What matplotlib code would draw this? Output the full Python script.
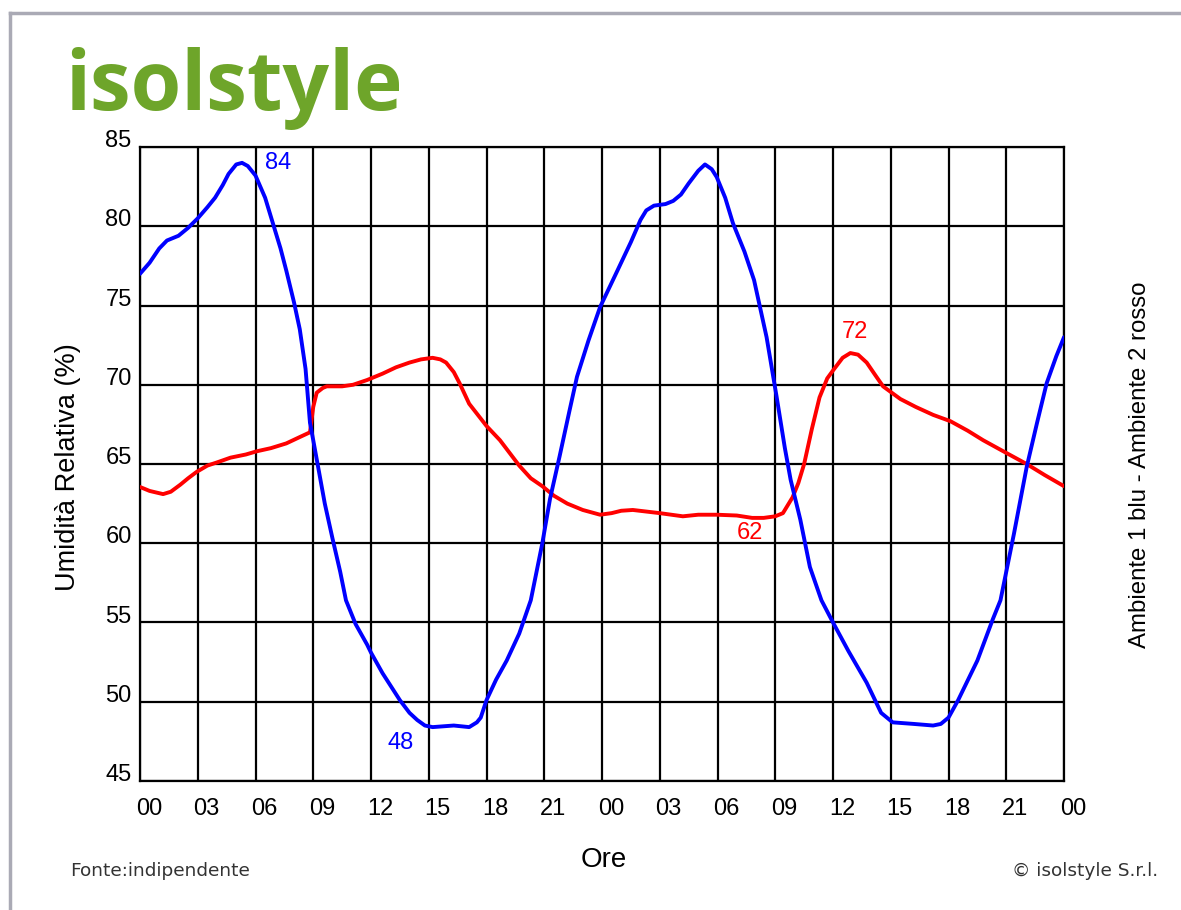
import matplotlib
matplotlib.use("Agg")
import matplotlib.pyplot as plt
from matplotlib.lines import Line2D
from matplotlib.transforms import ScaledTranslation

# ore (0-48) e umidita relativa
blue_hours = [0, 0.5, 1.0, 1.4, 2.0, 2.5, 3.0, 3.5, 3.9, 4.3, 4.6, 5.0, 5.3, 5.6, 6.0,
              6.5, 6.9, 7.3, 7.6, 8.0, 8.3, 8.6, 8.83, 9.0, 9.3, 9.6, 10.0, 10.4, 10.7,
              11.2, 11.8, 12.0, 12.6, 13.5, 14.0, 14.4, 14.8, 15.2, 16.3, 17.1, 17.5,
              17.7, 18.0, 18.5, 19.05, 19.7, 20.3, 20.9, 21.3, 21.8, 22.3, 22.7, 23.3,
              23.9, 24.8, 25.5, 26.0, 26.3, 26.7, 27.3, 27.7, 28.1, 28.5, 29.0, 29.35,
              29.7, 29.96, 30.4, 30.8, 31.4, 31.9, 32.55, 33.07, 33.5, 33.8, 34.3, 34.8,
              35.4, 36.0, 36.8, 37.75, 38.5, 39.1, 40.2, 41.2, 41.6, 42.0, 42.5, 43.5,
              44.3, 44.7, 45.4, 46.06, 46.6, 47.1, 47.6, 48.0]
blue_values = [77.0, 77.7, 78.6, 79.1, 79.4, 79.9, 80.5, 81.2, 81.8, 82.6, 83.3, 83.9, 84.0,
               83.8, 83.2, 81.8, 80.2, 78.6, 77.2, 75.2, 73.5, 71.0, 67.6, 66.5, 64.5,
               62.5, 60.3, 58.2, 56.4, 54.9, 53.6, 53.1, 51.8, 50.1, 49.3, 48.85, 48.5,
               48.4, 48.5, 48.4, 48.7, 49.0, 50.1, 51.4, 52.6, 54.3, 56.4, 60.0, 62.8,
               65.5, 68.3, 70.5, 72.8, 74.9, 77.2, 79.0, 80.4, 81.0, 81.3, 81.4, 81.6,
               82.0, 82.7, 83.5, 83.9, 83.6, 83.1, 81.8, 80.2, 78.4, 76.6, 73.0, 69.25,
               66.0, 64.0, 61.5, 58.5, 56.4, 55.0, 53.2, 51.2, 49.3, 48.7, 48.6, 48.5,
               48.6, 49.0, 50.1, 52.6, 55.2, 56.4, 60.6, 64.8, 67.6, 70.1, 71.8, 73.0]

red_hours = [0, 0.5, 1.2, 1.6, 2.1, 2.5, 2.94, 3.5, 4.0, 4.7, 5.5, 6.06, 6.8, 7.6, 8.3,
             8.83, 9.0, 9.18, 9.5, 9.7, 10.5, 11.07, 11.8, 12.6, 13.3, 14.0, 14.6, 15.2,
             15.6, 15.9, 16.3, 16.6, 17.1, 18.0, 18.7, 19.7, 20.3, 20.9, 21.5, 22.2, 23.0,
             23.9, 24.5, 25.0, 25.6, 26.3, 27.0, 28.2, 29.0, 29.96, 31.0, 31.8, 32.4,
             33.0, 33.4, 33.9, 34.2, 34.5, 34.9, 35.3, 35.7, 36.0, 36.5, 36.9, 37.3,
             37.75, 38.2, 38.6, 39.5, 40.3, 41.2, 42.1, 43.0, 43.8, 45.0, 46.06, 47.0, 48.0]
red_values = [63.55, 63.3, 63.1, 63.25, 63.7, 64.1, 64.5, 64.9, 65.1, 65.4, 65.6, 65.8,
              66.0, 66.3, 66.7, 67.0, 68.6, 69.5, 69.8, 69.9, 69.9, 70.0, 70.3, 70.7,
              71.1, 71.4, 71.6, 71.7, 71.6, 71.4, 70.8, 70.1, 68.8, 67.4, 66.5, 64.9,
              64.1, 63.6, 63.0, 62.5, 62.1, 61.8, 61.9, 62.05, 62.1, 62.0, 61.9, 61.7,
              61.8, 61.8, 61.75, 61.6, 61.6, 61.7, 61.9, 62.9, 63.8, 65.0, 67.2, 69.2,
              70.4, 70.9, 71.7, 72.0, 71.9, 71.4, 70.6, 69.9, 69.1, 68.6, 68.1, 67.7,
              67.1, 66.5, 65.7, 65.0, 64.3, 63.6]

x_ticks = list(range(0, 49, 3))
x_labels = ["00", "03", "06", "09", "12", "15", "18", "21",
            "00", "03", "06", "09", "12", "15", "18", "21", "00"]
y_ticks = [45, 50, 55, 60, 65, 70, 75, 80, 85]

# etichette dei picchi: (ora, valore, testo, colore)
peak_labels = [(7.17, 84.0, "84", "#0000ff"), (13.56, 47.4, "48", "#0000ff"),
               (37.15, 73.3, "72", "#ff0000"), (31.7, 60.65, "62", "#ff0000")]

fig = plt.figure(figsize=(11.81, 9.10), dpi=100)
ax = fig.add_axes([140 / 1181, 1 - 781 / 910, 924 / 1181, 634 / 910])

ax.plot(red_hours, red_values, color="#ff0000", linewidth=2.8, solid_joinstyle="round",
        solid_capstyle="round", zorder=3)
ax.plot(blue_hours, blue_values, color="#0000ff", linewidth=2.8, solid_joinstyle="round",
        solid_capstyle="round", zorder=4)

for h, v, txt, col in peak_labels:
    ax.text(h, v, txt, color=col, fontsize=17, ha="center", va="center",
            family="Liberation Sans", zorder=5)

ax.set_xlim(0, 48)
ax.set_ylim(45, 85)
ax.set_xticks(x_ticks)
ax.set_xticklabels(x_labels, family="Liberation Sans", fontsize=17, ha="left")
ax.set_yticks(y_ticks)
ax.set_yticklabels([str(v) for v in y_ticks], family="Liberation Sans", fontsize=17)
ax.tick_params(length=0, pad=6)
ax.tick_params(axis="x", pad=12)
for label in ax.get_yticklabels():
    label.set_transform(label.get_transform() + ScaledTranslation(0, 6 / 72, fig.dpi_scale_trans))
for label in ax.get_xticklabels():
    label.set_transform(label.get_transform() + ScaledTranslation(-3 / 72, 0, fig.dpi_scale_trans))

ax.grid(True, color="black", linewidth=1.6)
ax.set_axisbelow(True)
for spine in ax.spines.values():
    spine.set_linewidth(1.6)

fig.text(68 / 1181, 1 - 467 / 910, "Umidità Relativa (%)", family="Liberation Sans",
         fontsize=19.5, rotation=90, ha="center", va="center")
fig.text(604 / 1181, 1 - 860 / 910, "Ore", family="Liberation Sans", fontsize=20,
         ha="center", va="center")
fig.text(1140 / 1181, 1 - 465 / 910, "Ambiente 1 blu - Ambiente 2 rosso",
         family="Liberation Sans", fontsize=17.3, rotation=90, ha="center", va="center")

fig.text(65 / 1181, 1 - 110 / 910, "isolstyle", family="Open Sans", fontweight="bold",
         fontsize=59, color="#6ea52a", ha="left", va="baseline")
fig.text(70 / 1181, 1 - 871 / 910, "Fonte:indipendente", family="DejaVu Sans",
         fontsize=13.3, color="#333333", ha="left", va="center")
fig.text(1158 / 1181, 1 - 871 / 910, "© isolstyle S.r.l.", family="DejaVu Sans",
         fontsize=13.3, color="#333333", ha="right", va="center")

# cornice grigia in alto e a sinistra
fig.add_artist(Line2D([10 / 1181, 10 / 1181], [0, 1 - 13 / 910], color="#aaaab5",
                      linewidth=2.5, transform=fig.transFigure))
fig.add_artist(Line2D([10 / 1181, 1], [1 - 13 / 910, 1 - 13 / 910], color="#aaaab5",
                      linewidth=2.5, transform=fig.transFigure))

fig.savefig("out.png", dpi=100)
